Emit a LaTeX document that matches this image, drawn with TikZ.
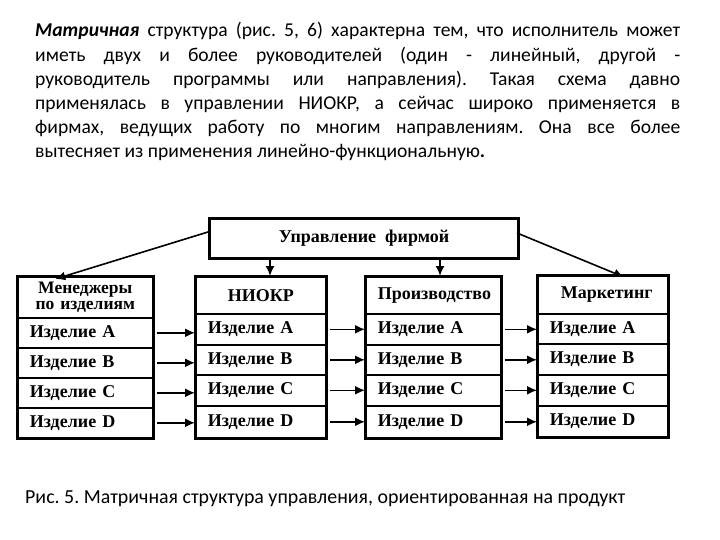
\documentclass[tikz,border=0pt]{standalone}
\usepackage{fontspec}
\setmainfont{Liberation Serif}
\newfontfamily\parafont{Carlito}
\usetikzlibrary{arrows.meta}
\begin{document}
\begin{tikzpicture}[x=1pt,y=-1pt,
  cellfont/.style={font=\fontsize{18}{18}\selectfont\bfseries},
  cell/.style 2 args={draw, line width=1.6pt, minimum height=#2, minimum width=#1,
     text width=#1-24pt, inner xsep=12pt, inner ysep=0pt, align=left, anchor=north west, cellfont},
  outer/.style={line width=3pt},
  arr/.style={line width=1.6pt, -{Latex[length=10pt,width=9pt]}},
  harr/.style={line width=1.6pt, -{Latex[length=10pt,width=9pt]}, shorten <=3pt}
]
\useasboundingbox (0,0) rectangle (720,540);

% paragraph
\node[anchor=base west, inner sep=0pt, align=left] (para) at (35,37) {\parbox[t]{645pt}{\parafont\fontsize{19.6}{24.2}\selectfont\frenchspacing\hyphenpenalty=10000\parindent=0pt
\textbf{\textit{Матричная}} структура (рис. 5, 6) характерна тем, что исполнитель может\linebreak
иметь двух и более руководителей (один - линейный, другой -\linebreak
руководитель программы или направления). Такая схема давно\linebreak
применялась в управлении НИОКР, а сейчас широко применяется в\linebreak
фирмах, ведущих работу по многим направлениям. Она все более\linebreak
вытесняет из применения линейно-функциональную\textbf{.}}};

% top box
\node[draw, line width=3pt, minimum width=309pt, minimum height=40pt, anchor=north west, cellfont] (top) at (208,217) {Управление\ \ фирмой};

% column 1
\node[cell={135pt}{41pt}, align=center, font=\fontsize{17.5}{16}\selectfont\bfseries] (c1h) at (17,276) {Менеджеры\\по изделиям};
\node[cell={135pt}{30pt}] (c1a) at (17,317) {Изделие A};
\node[cell={135pt}{30pt}] (c1b) at (17,347) {Изделие B};
\node[cell={135pt}{30pt}] (c1c) at (17,377) {Изделие C};
\node[cell={135pt}{30pt}] (c1d) at (17,407) {Изделие D};
\draw[outer] (c1h.north west) rectangle (c1d.south east);

% column 2
\node[cell={130pt}{37pt}, align=center] (c2h) at (195,276) {НИОКР\hspace*{12pt}};
\node[cell={130pt}{31pt}] (c2a) at (195,313) {Изделие A};
\node[cell={130pt}{30pt}] (c2b) at (195,344) {Изделие B};
\node[cell={130pt}{31pt}] (c2c) at (195,374) {Изделие C};
\node[cell={130pt}{32pt}] (c2d) at (195,405) {Изделие D};
\draw[outer] (c2h.north west) rectangle (c2d.south east);

% column 3
\node[cell={135pt}{37pt}, align=center] (c3h) at (365,276) {Производство};
\node[cell={135pt}{31pt}] (c3a) at (365,313) {Изделие A};
\node[cell={135pt}{30pt}] (c3b) at (365,344) {Изделие B};
\node[cell={135pt}{31pt}] (c3c) at (365,374) {Изделие C};
\node[cell={135pt}{32pt}] (c3d) at (365,405) {Изделие D};
\draw[outer] (c3h.north west) rectangle (c3d.south east);

% column 4
\node[cell={130pt}{38pt}, align=center] (c4h) at (537,275) {\hspace*{8pt}Маркетинг};
\node[cell={130pt}{30pt}] (c4a) at (537,313) {Изделие A};
\node[cell={130pt}{31pt}] (c4b) at (537,343) {Изделие B};
\node[cell={130pt}{31pt}] (c4c) at (537,374) {Изделие C};
\node[cell={130pt}{31pt}] (c4d) at (537,405) {Изделие D};
\draw[outer] (c4h.north west) rectangle (c4d.south east);

% arrows from top
\coordinate (tl) at (208,232);
\coordinate (tr) at (517,233);
\draw[arr] (tl) -- ([xshift=-30pt,yshift=-3pt]c1h.north);
\draw[arr] (tr) -- ([xshift=21pt,yshift=-2pt]c4h.north);
\draw[arr] (top.south -| 270,0) -- (c2h.north -| 270,0);
\draw[arr] (top.south -| 440,0) -- (c3h.north -| 440,0);

% horizontal arrows
\foreach \r in {a,b,c,d}{
  \draw[harr] (c1\r.east) -- (c2\r.west |- c1\r.east);
  \draw[harr] (c2\r.east) -- (c3\r.west |- c2\r.east);
  \draw[harr] (c3\r.east) -- (c4\r.west |- c3\r.east);
}

% caption
\node[anchor=base west, inner sep=0pt, font=\parafont\fontsize{19.9}{22}\selectfont\frenchspacing] (cap) at (25,503) {Рис. 5. Матричная структура управления, ориентированная на продукт};
\end{tikzpicture}
\end{document}
